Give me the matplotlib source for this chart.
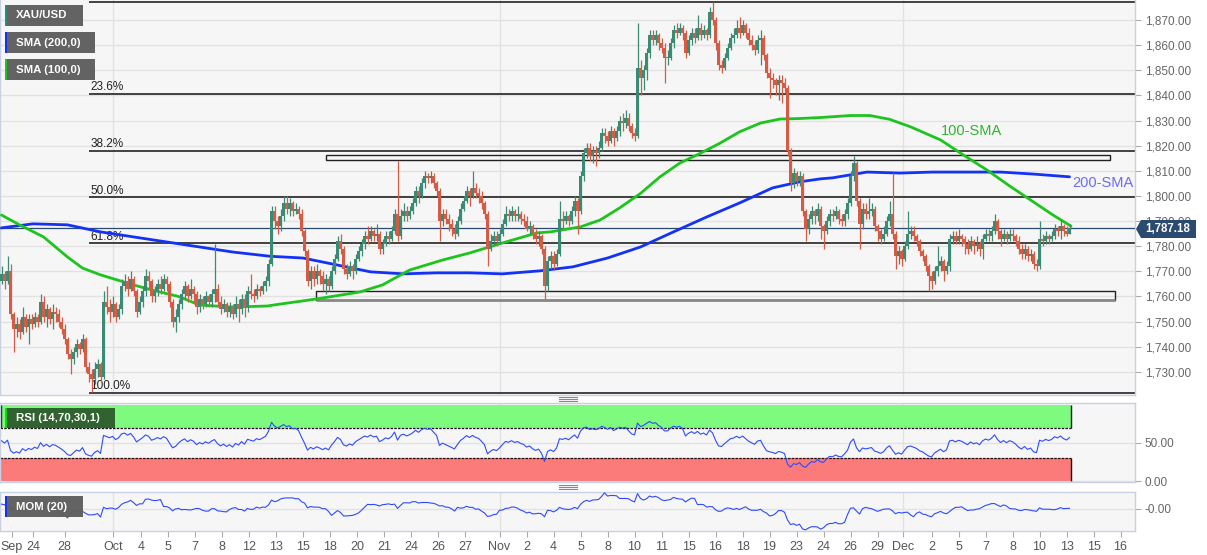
import matplotlib
matplotlib.use('Agg')
import matplotlib.pyplot as plt
from matplotlib.patches import Rectangle, Polygon
from matplotlib.lines import Line2D
from matplotlib.ticker import FuncFormatter
import numpy as np

plt.rcParams['font.family'] = ['Liberation Sans', 'DejaVu Sans']

# ---- data (4H XAU/USD candles) ----
open_first = 1766
close = [
    1769, 1766, 1770, 1753, 1747, 1749, 1746, 1752, 1748, 1751,
    1749, 1752, 1750, 1758, 1752, 1755, 1751, 1754, 1753, 1750,
    1747, 1743, 1737, 1735, 1738, 1741, 1739, 1743, 1732, 1729,
    1727, 1731, 1733, 1728, 1758, 1756, 1754, 1757, 1752, 1755,
    1764, 1766, 1763, 1767, 1762, 1754, 1758, 1762, 1768, 1766,
    1760, 1762, 1765, 1763, 1767, 1765, 1758, 1750, 1752, 1757,
    1761, 1764, 1760, 1763, 1761, 1756, 1759, 1757, 1760, 1758,
    1761, 1763, 1758, 1755, 1757, 1754, 1756, 1753, 1757, 1755,
    1759, 1756, 1762, 1761, 1760, 1763, 1762, 1764, 1766, 1773,
    1794, 1790, 1788, 1792, 1797, 1795, 1797, 1794, 1795, 1793,
    1786, 1778, 1766, 1770, 1767, 1770, 1768, 1765, 1767, 1764,
    1770, 1775, 1782, 1779, 1771, 1769, 1772, 1770, 1775, 1778,
    1781, 1784, 1783, 1786, 1784, 1785, 1779, 1781, 1784, 1783,
    1786, 1793, 1784, 1792, 1794, 1792, 1794, 1797, 1802, 1800,
    1805, 1808, 1807, 1808, 1805, 1802, 1790, 1793, 1791, 1789,
    1787, 1785, 1790, 1795, 1798, 1802, 1800, 1803, 1801, 1800,
    1797, 1793, 1779, 1782, 1784, 1782, 1785, 1789, 1793, 1792,
    1794, 1792, 1793, 1791, 1790, 1787, 1788, 1785, 1783, 1784,
    1779, 1764, 1774, 1776, 1773, 1777, 1791, 1790, 1792, 1790,
    1794, 1798, 1794, 1808, 1817, 1819, 1816, 1818, 1817, 1819,
    1825, 1824, 1822, 1826, 1823, 1826, 1830, 1829, 1831, 1828,
    1825, 1824, 1851, 1847, 1850, 1857, 1864, 1862, 1864, 1861,
    1859, 1855, 1855, 1861, 1866, 1865, 1867, 1865, 1857, 1862,
    1865, 1863, 1867, 1864, 1866, 1864, 1873, 1870, 1861, 1852,
    1851, 1855, 1859, 1863, 1864, 1867, 1865, 1868, 1865, 1862,
    1860, 1858, 1862, 1863, 1856, 1849, 1847, 1846, 1844, 1846,
    1845, 1843, 1818, 1805, 1809, 1806, 1808, 1794, 1787, 1791,
    1794, 1792, 1795, 1788, 1786, 1790, 1793, 1792, 1794, 1791,
    1790, 1793, 1797, 1808, 1813, 1798, 1789, 1795, 1793, 1794,
    1795, 1788, 1786, 1783, 1785, 1790, 1793, 1785, 1776, 1778,
    1775, 1780, 1785, 1786, 1784, 1782, 1778, 1776, 1772, 1768,
    1766, 1770, 1772, 1774, 1770, 1772, 1783, 1784, 1782, 1784,
    1783, 1781, 1779, 1782, 1780, 1781, 1779, 1783, 1785, 1784,
    1786, 1790, 1786, 1783, 1785, 1783, 1785, 1784, 1782, 1779,
    1777, 1779, 1776, 1777, 1773, 1772, 1783, 1782, 1784, 1783,
    1784, 1787, 1786, 1788, 1786, 1785, 1787.18,
]
high = [
    1772, 1770, 1776, 1773, 1754, 1752, 1751, 1756, 1753, 1753,
    1753, 1754, 1753, 1761, 1760, 1757, 1756, 1757, 1756, 1755,
    1752, 1749, 1744, 1739, 1740, 1743, 1742, 1745, 1744, 1734,
    1731, 1734, 1735, 1734, 1762, 1764, 1759, 1760, 1758, 1757,
    1767, 1769, 1768, 1770, 1768, 1763, 1760, 1764, 1771, 1770,
    1767, 1764, 1767, 1768, 1769, 1768, 1766, 1759, 1755, 1759,
    1763, 1766, 1765, 1767, 1764, 1762, 1761, 1760, 1762, 1761,
    1763, 1781, 1765, 1760, 1759, 1758, 1758, 1757, 1760, 1759,
    1761, 1761, 1764, 1769, 1763, 1765, 1764, 1766, 1768, 1775,
    1796, 1796, 1792, 1795, 1800, 1800, 1799, 1798, 1797, 1796,
    1795, 1787, 1779, 1772, 1772, 1773, 1771, 1770, 1769, 1768,
    1772, 1777, 1784, 1785, 1780, 1773, 1774, 1773, 1777, 1780,
    1783, 1786, 1788, 1788, 1787, 1789, 1786, 1783, 1786, 1786,
    1788, 1795, 1814, 1795, 1797, 1796, 1796, 1799, 1804, 1804,
    1807, 1810, 1809, 1810, 1809, 1806, 1803, 1795, 1795, 1793,
    1791, 1789, 1792, 1797, 1800, 1804, 1803, 1810, 1805, 1803,
    1802, 1798, 1794, 1785, 1786, 1786, 1787, 1791, 1796, 1795,
    1796, 1795, 1796, 1794, 1793, 1792, 1790, 1789, 1787, 1786,
    1785, 1780, 1776, 1778, 1778, 1779, 1798, 1794, 1794, 1793,
    1796, 1800, 1799, 1810, 1819, 1821, 1821, 1820, 1820, 1822,
    1827, 1827, 1826, 1828, 1827, 1828, 1832, 1833, 1834, 1833,
    1829, 1827, 1869, 1854, 1852, 1859, 1866, 1866, 1866, 1865,
    1863, 1861, 1858, 1863, 1868, 1869, 1869, 1868, 1866, 1864,
    1867, 1867, 1872, 1869, 1868, 1867, 1875, 1877.2, 1871, 1862,
    1854, 1857, 1861, 1865, 1867, 1870, 1871, 1870, 1869, 1867,
    1864, 1862, 1864, 1866, 1864, 1857, 1851, 1849, 1847, 1848,
    1848, 1847, 1844, 1819, 1811, 1810, 1810, 1809, 1795, 1793,
    1796, 1795, 1797, 1796, 1789, 1792, 1795, 1795, 1796, 1795,
    1793, 1795, 1799, 1810, 1816, 1814, 1799, 1797, 1797, 1799,
    1797, 1796, 1789, 1787, 1788, 1792, 1798, 1809, 1786, 1780,
    1779, 1782, 1794, 1788, 1788, 1785, 1783, 1779, 1777, 1773,
    1770, 1772, 1780, 1776, 1775, 1774, 1785, 1786, 1786, 1787,
    1785, 1784, 1783, 1784, 1783, 1784, 1782, 1785, 1787, 1787,
    1788, 1793, 1791, 1787, 1787, 1786, 1787, 1787, 1785, 1784,
    1781, 1781, 1780, 1779, 1778, 1775, 1790, 1785, 1786, 1785,
    1786, 1789, 1788, 1791, 1789, 1788, 1789,
]
low = [
    1765, 1763, 1765, 1751, 1738, 1744, 1743, 1745, 1746, 1741,
    1747, 1748, 1748, 1749, 1750, 1748, 1749, 1747, 1750, 1748,
    1745, 1741, 1735, 1729, 1733, 1736, 1737, 1738, 1730, 1726,
    1722, 1725, 1728, 1726, 1727, 1753, 1750, 1752, 1750, 1751,
    1753, 1762, 1760, 1762, 1760, 1752, 1753, 1756, 1760, 1763,
    1758, 1758, 1760, 1761, 1762, 1762, 1756, 1748, 1746, 1750,
    1755, 1759, 1758, 1759, 1757, 1753, 1754, 1755, 1756, 1756,
    1756, 1758, 1756, 1753, 1754, 1752, 1752, 1751, 1752, 1750,
    1753, 1752, 1754, 1759, 1758, 1759, 1760, 1761, 1762, 1764,
    1772, 1787, 1785, 1786, 1790, 1793, 1792, 1792, 1793, 1791,
    1784, 1776, 1764, 1763, 1764, 1765, 1765, 1762, 1761, 1762,
    1763, 1769, 1774, 1777, 1769, 1767, 1768, 1767, 1769, 1774,
    1776, 1779, 1781, 1782, 1782, 1782, 1777, 1777, 1780, 1781,
    1782, 1785, 1782, 1783, 1790, 1790, 1791, 1793, 1796, 1797,
    1799, 1803, 1805, 1805, 1803, 1800, 1782, 1788, 1789, 1786,
    1784, 1783, 1784, 1789, 1794, 1797, 1796, 1799, 1799, 1797,
    1795, 1791, 1772, 1778, 1780, 1780, 1781, 1784, 1788, 1790,
    1790, 1790, 1790, 1789, 1788, 1786, 1785, 1783, 1781, 1780,
    1777, 1759, 1762, 1771, 1771, 1772, 1776, 1787, 1789, 1788,
    1789, 1792, 1785, 1793, 1806, 1815, 1814, 1813, 1812, 1815,
    1818, 1821, 1820, 1821, 1820, 1822, 1824, 1826, 1827, 1826,
    1823, 1822, 1823, 1840, 1842, 1846, 1855, 1860, 1860, 1858,
    1857, 1845, 1852, 1854, 1859, 1863, 1864, 1862, 1855, 1856,
    1860, 1861, 1862, 1862, 1863, 1862, 1863, 1868, 1858, 1850,
    1849, 1850, 1854, 1858, 1861, 1863, 1863, 1864, 1863, 1860,
    1858, 1856, 1857, 1852, 1854, 1847, 1839, 1843, 1840, 1838,
    1837, 1841, 1816, 1802, 1803, 1804, 1804, 1792, 1782, 1785,
    1789, 1789, 1790, 1783, 1779, 1785, 1788, 1790, 1791, 1789,
    1788, 1788, 1791, 1796, 1806, 1796, 1779, 1787, 1791, 1791,
    1792, 1786, 1782, 1781, 1782, 1784, 1788, 1783, 1771, 1773,
    1772, 1774, 1779, 1783, 1782, 1780, 1776, 1774, 1770, 1762,
    1763, 1765, 1768, 1770, 1766, 1769, 1770, 1781, 1781, 1781,
    1780, 1777, 1777, 1778, 1777, 1778, 1776, 1775, 1782, 1782,
    1782, 1785, 1783, 1780, 1782, 1781, 1782, 1782, 1780, 1777,
    1775, 1775, 1774, 1774, 1771, 1770, 1771, 1780, 1781, 1781,
    1782, 1783, 1784, 1783, 1784, 1784, 1785,
]

# moving averages (bar index, value)
sma100_x = [0, 6, 14, 22, 27, 33, 44, 50, 59, 66, 77, 88.5, 93, 105, 119.5, 127, 136,
            147, 156, 167, 178.5, 183, 193, 199.5, 206, 213, 219.5, 226, 233, 239.5,
            246, 253, 259.5, 266, 273, 283, 289.5, 296, 303, 313, 321, 328.5, 336,
            342, 350.5, 356.5]
sma100_y = [1792.4, 1788.5, 1783.7, 1775.7, 1771.3, 1768.6, 1764.6, 1762.6, 1760.0,
            1756.6, 1755.8, 1756.2, 1757.0, 1759.0, 1761.8, 1764.6, 1770.5, 1774.5,
            1777.3, 1781.3, 1785.3, 1785.7, 1787.7, 1790.4, 1795.2, 1801.0, 1807.6,
            1813.0, 1817.0, 1821.0, 1825.5, 1829.0, 1830.6, 1830.8, 1831.2, 1832.0,
            1832.0, 1830.5, 1827.5, 1822.3, 1816.0, 1810.3, 1804.0, 1799.2, 1792.4,
            1788.0]
sma200_x = [0, 10.5, 22, 33, 44, 55, 66, 77, 89.5, 100.5, 112, 123, 134, 145, 156, 167,
            179.5, 190.5, 202, 213, 224, 235, 246, 257, 266, 273, 277, 288.5, 299.5,
            310.5, 322, 333, 344, 356]
sma200_y = [1787.3, 1788.9, 1788.5, 1785.7, 1783.7, 1781.7, 1779.7, 1777.7, 1776.0,
            1775.3, 1772.5, 1769.8, 1769.0, 1769.4, 1769.4, 1769.0, 1770.2, 1771.8,
            1775.3, 1779.7, 1785.7, 1791.6, 1797.2, 1803.2, 1805.6, 1806.8, 1807.2,
            1809.5, 1809.1, 1809.5, 1809.5, 1809.5, 1808.7, 1807.6]

# momentum of the first 20 bars (needs history before the window)
mom_head = [18, 15, 24, 2, -5, -2, -6, 2, -3, 0, -2, 3, 0, 10, 4, 6, 2, 5, 4, 1]

fib_low, fib_high = 1721.7, 1877.2
fib_ratios = [0, 0.236, 0.382, 0.5, 0.618, 1.0]
fib_start = 29.3
zones = [(1814.3, 1816.3, 108.2, 369.5), (1758.6, 1762.2, 104.8, 371.0)]

tick_pos = [3.4, 10.5, 21, 37.2, 46.5, 55.5, 64.5, 73.5, 82.5, 91.5, 100.5, 109.5,
            118.5, 127.5, 136.5, 145.5, 154.5, 166, 175, 184, 193, 202, 211, 220,
            229, 238, 247, 256, 265, 274, 283, 292, 300.5, 310, 319, 328, 337, 346,
            355, 364, 373]
tick_lbl = ['Sep', '24', '28', 'Oct', '4', '5', '7', '8', '12', '13', '15', '18', '20',
            '21', '24', '26', '27', 'Nov', '2', '4', '5', '8', '10', '11', '15', '16',
            '18', '19', '23', '24', '26', '29', 'Dec', '2', '5', '7', '8', '10', '13',
            '15', '16']
month_pos = [37.2, 166.2, 300.5]

# ---- derived series ----
c = np.array(close, dtype=float)
o = np.concatenate([[open_first], c[:-1]])
h = np.maximum(np.array(high, dtype=float), np.maximum(o, c))
lo = np.minimum(np.array(low, dtype=float), np.minimum(o, c))
n = len(c)
idx = np.arange(n)

rsi = []
ag = al = 2.0
prev = open_first
for v in c:
    d = v - prev
    ag = (ag * 13 + max(d, 0)) / 14
    al = (al * 13 + max(-d, 0)) / 14
    rsi.append(100 - 100 / (1 + ag / al))
    prev = v
rsi = np.array(rsi)
mom = np.concatenate([mom_head, c[20:] - c[:-20]])

# ---- layout ----
W, H = 1207, 555
fig = plt.figure(figsize=(W / 100, H / 100), dpi=100)
fig.patch.set_facecolor('white')


def fbox(x0, y0, x1, y1):
    return [x0 / W, 1 - y1 / H, (x1 - x0) / W, (y1 - y0) / H]


BG = '#f6f6f6'
GRID = '#e2e2e2'
SPINE = '#c8d0e2'
UP, DN = '#3b8a73', '#d65b45'
XMAX = (1135 - 1.5) / 3

ax = fig.add_axes(fbox(0, 0, 1135, 395))
ax_rsi = fig.add_axes(fbox(0, 403, 1135, 482))
ax_mom = fig.add_axes(fbox(0, 492, 1135, 531))

for a in (ax, ax_rsi, ax_mom):
    a.set_facecolor(BG)
    a.set_xlim(-0.5, XMAX)
    for s in a.spines.values():
        s.set_color(SPINE)
        s.set_linewidth(1)
    a.yaxis.tick_right()
    a.tick_params(axis='y', direction='out', length=4, width=0.8, color='#aaaaaa',
                  labelcolor='#666666', labelsize=8.5, pad=3)
    a.set_xticks(tick_pos)
    a.tick_params(axis='x', bottom=False, labelbottom=False)
    for m in month_pos:
        a.axvline(m, color=GRID, lw=1, zorder=0)

# main panel
ax.set_ylim(1720.8, 1877.96)
ax.set_yticks(np.arange(1730, 1871, 10))
ax.yaxis.set_major_formatter(FuncFormatter(lambda v, p: f'{v:,.2f}'))
ax.spines['top'].set_visible(False)
for v in np.arange(1730, 1871, 10):
    ax.axhline(v, color=GRID, lw=1, zorder=0)

# fibonacci levels
for r in fib_ratios:
    lvl = fib_high - r * (fib_high - fib_low)
    ax.hlines(lvl, fib_start, XMAX, color='#111111', lw=1.1, zorder=2)
    if r > 0:
        ax.text(fib_start + 0.3, lvl + 0.3, f'{r * 100:.1f}%', fontsize=8.5,
                color='#222222', va='bottom', ha='left', zorder=3)

# support / resistance boxes
for z0, z1, x0, x1 in zones:
    ax.add_patch(Rectangle((x0, z0), x1 - x0, z1 - z0, fill=False,
                           edgecolor='#222222', lw=1, zorder=2))
ax.hlines(zones[1][0], zones[1][2], zones[1][3], color='#8a8a8a', lw=2, zorder=2)

# SMAs
ax.plot(sma200_x, sma200_y, color='#1432f5', lw=2, zorder=4, solid_capstyle='round')
ax.plot(sma100_x, sma100_y, color='#1ec41e', lw=2, zorder=4, solid_capstyle='round')

# candles
col = np.where(c >= o, UP, DN)
ax.vlines(idx, lo, h, colors=col, lw=0.9, zorder=5)
body = np.maximum(np.abs(c - o), 0.35)
ax.bar(idx, body, bottom=np.minimum(o, c), width=0.72, color=col, lw=0, zorder=6)

# last price line
last = close[-1]
ax.axhline(last, color='#2b4a70', lw=0.9, zorder=3)

ax.text(313, 1825.8, '100-SMA', color='#2fb52f', fontsize=10.5, va='center', ha='left')
ax.text(357, 1805.2, '200-SMA', color='#6b6bff', fontsize=10.5, va='center', ha='left')

# RSI panel
ax_rsi.set_ylim(-1.3, 102.3)
ax_rsi.set_yticks([0, 50])
ax_rsi.set_yticklabels(['0.00', '50.00'])
for v in (0, 50):
    ax_rsi.axhline(v, color=GRID, lw=1, zorder=0)
last_x = n - 1 + 0.4
ax_rsi.add_patch(Rectangle((-0.5, 70), last_x + 0.5, 30, facecolor='#7efb7e',
                           edgecolor='none', zorder=1))
ax_rsi.add_patch(Rectangle((-0.5, 0), last_x + 0.5, 30, facecolor='#fb7b7b',
                           edgecolor='none', zorder=1))
ax_rsi.hlines([70, 30], -0.5, last_x, colors='#111111', lw=0.9,
              linestyles=(0, (2, 1)), zorder=2)
ax_rsi.vlines([last_x], 70, 100, colors='#111111', lw=1, zorder=2)
ax_rsi.vlines([last_x], 0, 30, colors='#111111', lw=1, zorder=2)
ax_rsi.vlines([-0.3], 70, 100, colors='#111111', lw=1, zorder=2)
ax_rsi.plot(idx, rsi, color='#2f4bff', lw=0.8, zorder=3)

# MOM panel
ax_mom.set_ylim(-82, 63)
ax_mom.set_yticks([0])
ax_mom.set_yticklabels(['-0.00'])
ax_mom.axhline(0, color=GRID, lw=1, zorder=0)
ax_mom.plot(idx, mom, color='#2f4bff', lw=0.8, zorder=3)
ax_mom.tick_params(axis='x', bottom=True, labelbottom=True, direction='out',
                   length=4, width=0.8, color='#aaaaaa', labelcolor='#555555',
                   labelsize=9, pad=3)
ax_mom.set_xticklabels(tick_lbl)


# legend chips
def chip(x0, y0, x1, y1, text, accent, face='#5e5e5e', alpha=0.97):
    fig.add_artist(Rectangle((x0 / W, 1 - y1 / H), (x1 - x0) / W, (y1 - y0) / H,
                             transform=fig.transFigure, facecolor=face, alpha=alpha,
                             edgecolor='none', zorder=20))
    fig.add_artist(Rectangle((x0 / W, 1 - y1 / H), 2.2 / W, (y1 - y0) / H,
                             transform=fig.transFigure, facecolor=accent,
                             edgecolor='none', zorder=21))
    fig.text((x0 + 11) / W, 1 - (y0 + y1) / 2 / H, text, color='white',
             fontsize=8.2, fontweight='bold', va='center', ha='left', zorder=22)


chip(5, 5, 83, 26, 'XAU/USD', '#2c8a7a')
chip(5, 32, 95, 53, 'SMA (200,0)', '#1432f5')
chip(5, 59, 95, 80, 'SMA (100,0)', '#1ec41e')
chip(5, 408, 115, 428, 'RSI (14,70,30,1)', '#14d414', face='#2e5e2e')
chip(5, 496, 83, 517, 'MOM (20)', '#1432f5')

# last price tag
ty = 229
tag = [(1136, ty), (1141, ty - 9), (1196, ty - 9), (1196, ty + 9), (1141, ty + 9)]
fig.add_artist(Polygon([(x / W, 1 - y / H) for x, y in tag], closed=True,
                       transform=fig.transFigure, facecolor='#2b4a70',
                       edgecolor='none', zorder=20))
fig.text(1168 / W, 1 - ty / H, f'{last:,.2f}', color='white', fontsize=8.3,
         fontweight='bold', va='center', ha='center', zorder=21)

# panel separators
for sy in (399, 487):
    for dy in (-2, 0, 2):
        fig.add_artist(Line2D([559 / W, 577 / W], [1 - (sy + dy) / H] * 2,
                              transform=fig.transFigure, color='#888888', lw=0.8))

fig.savefig('out.png', dpi=100, facecolor='white')
